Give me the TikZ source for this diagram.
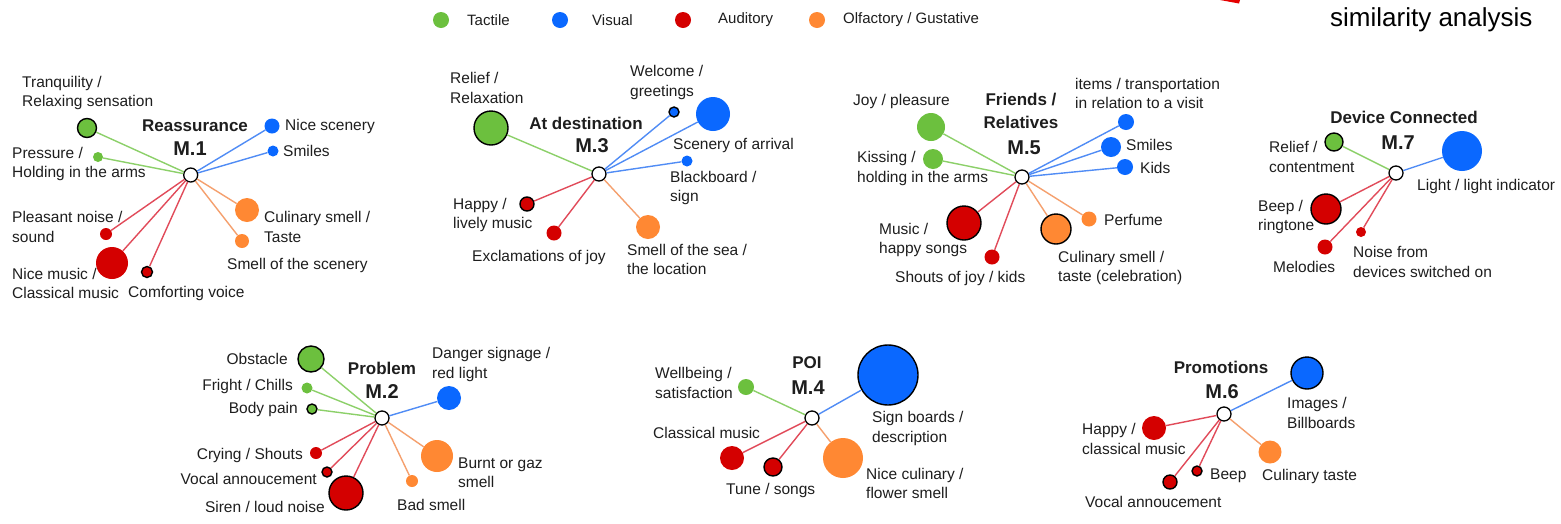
\documentclass[tikz,border=0pt]{standalone}
\usepackage{fontspec}
\setmainfont{Liberation Sans}
\definecolor{cG}{RGB}{108,192,62}
\definecolor{cB}{RGB}{10,104,255}
\definecolor{cR}{RGB}{212,0,0}
\definecolor{cO}{RGB}{255,136,51}
\definecolor{lG}{RGB}{140,208,105}
\definecolor{lB}{RGB}{80,140,245}
\definecolor{lR}{RGB}{225,75,90}
\definecolor{lO}{RGB}{245,160,110}
\definecolor{txt}{RGB}{30,30,30}
\tikzset{
  hub/.style={circle,draw=black,fill=white,line width=1.3pt,minimum size=14pt,inner sep=0pt},
  dot/.style={circle,inner sep=0pt,minimum size=#1},
  ol/.style={draw=black,line width=1.4pt},
  gdot/.style={dot=#1,fill=cG},
  bdot/.style={dot=#1,fill=cB},
  rdot/.style={dot=#1,fill=cR},
  odot/.style={dot=#1,fill=cO},
  ge/.style={draw=lG,line width=1.4pt},
  be/.style={draw=lB,line width=1.4pt},
  re/.style={draw=lR,line width=1.4pt},
  oe/.style={draw=lO,line width=1.4pt},
  lbl/.style={font=\fontsize{15.5}{19.5}\selectfont,align=left,inner sep=0pt,text=txt},
  lblr/.style={lbl,align=right,anchor=east},
  ttl/.style={font=\fontsize{17}{23}\selectfont\bfseries,align=center,inner sep=0pt,text=txt},
  mlab/.style={font=\fontsize{20}{24}\selectfont\bfseries,inner sep=0pt,text=txt},
  leg/.style={font=\fontsize{15}{18}\selectfont,inner sep=0pt,anchor=west,text=txt},
}
\begin{document}
\begin{tikzpicture}[x=1pt,y=-1pt]
\useasboundingbox (0,0) rectangle (1561,523);
\fill[white] (0,0) rectangle (1561,523);
% legend
\node[gdot=16] (lg1) at (441,20) {};
\node[leg] (lt1) at (467,20) {Tactile};
\node[bdot=16] (lg2) at (560,20) {};
\node[leg] (lt2) at (592,20) {Visual};
\node[rdot=16] (lg3) at (683,20) {};
\node[leg] (lt3) at (718,20) {Auditory};
\node[odot=16] (lg4) at (817,20) {};
\node[leg] (lt4) at (843,20) {Olfactory / Gustative};
\node[font=\fontsize{26}{30}\selectfont,anchor=west,inner sep=0pt,text=black] (sim) at (1330,20) {similarity analysis};
\fill[red!90!black] (1220,0) -- (1240,0) -- (1239,3.5) -- cycle;

% ---------------- M.1
\node[hub] (h1) at (190.7,175) {};
\node[ttl] (t1) at (195,126) {Reassurance};
\node[mlab] (n1) at (190,149) {M.1};
\node[gdot=19,ol] (a1) at (87,128) {};
\node[gdot=10] (a2) at (98,157) {};
\node[bdot=15] (a3) at (272,126) {};
\node[bdot=11] (a4) at (273,151) {};
\node[odot=24] (a5) at (247,210) {};
\node[odot=14] (a6) at (242,241) {};
\node[rdot=12] (a7) at (106,234) {};
\node[rdot=32] (a8) at (112,263) {};
\node[rdot=11,ol] (a9) at (147,272) {};
\draw[ge] (h1) -- (a1); \draw[ge] (h1) -- (a2);
\draw[be] (h1) -- (a3); \draw[be] (h1) -- (a4);
\draw[oe] (h1) -- (a5); \draw[oe] (h1) -- (a6);
\draw[re] (h1) -- (a7); \draw[re] (h1) -- (a8); \draw[re] (h1) -- (a9);
\node[lbl,anchor=west] (la1) at (22,93) {Tranquility /\\Relaxing sensation};
\node[lbl,anchor=west] (la2) at (12,164) {Pressure /\\Holding in the arms};
\node[lbl,anchor=west] (la3) at (285,126) {Nice scenery};
\node[lbl,anchor=west] (la4) at (283,151) {Smiles};
\node[lbl,anchor=west] (la5) at (264,227) {Culinary smell /\\Taste};
\node[lbl,anchor=west] (la6) at (227,265) {Smell of the scenery};
\node[lbl,anchor=west] (la7) at (12,227) {Pleasant noise /\\sound};
\node[lbl,anchor=west] (la8) at (12,283.5) {Nice music /\\Classical music};
\node[lbl,anchor=west] (la9) at (128,293) {Comforting voice};

% ---------------- M.3
\node[hub] (h3) at (599,174) {};
\node[ttl] (t3) at (586,123) {At destination};
\node[mlab] (n3) at (592,146) {M.3};
\node[gdot=34,ol] (c1) at (491,128) {};
\node[bdot=10,ol] (c2) at (674,112) {};
\node[bdot=34] (c3) at (713,114) {};
\node[bdot=11] (c4) at (687,161) {};
\node[rdot=14,ol] (c5) at (527,204) {};
\node[rdot=15] (c6) at (554,233) {};
\node[odot=24] (c7) at (648,227) {};
\draw[ge] (h3) -- (c1);
\draw[be] (h3) -- (c2); \draw[be] (h3) -- (c3); \draw[be] (h3) -- (c4);
\draw[re] (h3) -- (c5); \draw[re] (h3) -- (c6);
\draw[oe] (h3) -- (c7);
\node[lbl,anchor=west] (lc1) at (450,88) {Relief /\\Relaxation};
\node[lbl,anchor=west] (lc2) at (630,82.5) {Welcome /\\greetings};
\node[lbl,anchor=west] (lc3) at (673,145) {Scenery of arrival};
\node[lbl,anchor=west] (lc4) at (670,188) {Blackboard /\\sign};
\node[lbl,anchor=west] (lc5) at (453,215) {Happy /\\lively music};
\node[lbl,anchor=west] (lc6) at (472,257) {Exclamations of joy};
\node[lbl,anchor=west] (lc7) at (627,259.5) {Smell of the sea /\\the location};

% ---------------- M.5
\node[hub] (h5) at (1022,177) {};
\node[ttl] (t5) at (1021,110.5) {Friends /\\Relatives};
\node[mlab] (n5) at (1024,148) {M.5};
\node[gdot=28] (e1) at (931,127) {};
\node[gdot=20] (e2) at (933,159) {};
\node[bdot=16] (e3) at (1126,122) {};
\node[bdot=20] (e4) at (1111,147) {};
\node[bdot=16] (e5) at (1125,167) {};
\node[rdot=34,ol] (e6) at (964,223) {};
\node[rdot=15] (e7) at (992,257) {};
\node[odot=30,ol] (e8) at (1056,229) {};
\node[odot=15] (e9) at (1089,219) {};
\draw[ge] (h5) -- (e1); \draw[ge] (h5) -- (e2);
\draw[be] (h5) -- (e3); \draw[be] (h5) -- (e4); \draw[be] (h5) -- (e5);
\draw[re] (h5) -- (e6); \draw[re] (h5) -- (e7);
\draw[oe] (h5) -- (e8); \draw[oe] (h5) -- (e9);
\node[lbl,anchor=west] (le1) at (853,101) {Joy / pleasure};
\node[lbl,anchor=west] (le2) at (857,168.5) {Kissing /\\holding in the arms};
\node[lbl,anchor=west] (le3) at (1075,93.5) {items / transportation\\in relation to a visit};
\node[lbl,anchor=west] (le4) at (1126,145) {Smiles};
\node[lbl,anchor=west] (le5) at (1140,168) {Kids};
\node[lbl,anchor=west] (le6) at (879,240) {Music /\\happy songs};
\node[lbl,anchor=west] (le7) at (895,278) {Shouts of joy / kids};
\node[lbl,anchor=west] (le8) at (1058,268) {Culinary smell /\\taste (celebration)};
\node[lbl,anchor=west] (le9) at (1104,220) {Perfume};

% ---------------- M.7
\node[hub] (h7) at (1396,173) {};
\node[ttl] (t7) at (1404,117) {Device Connected};
\node[mlab] (n7) at (1398,143) {M.7};
\node[gdot=18,ol] (g1) at (1334,142) {};
\node[bdot=40] (g2) at (1462,151) {};
\node[rdot=30,ol] (g3) at (1326,209) {};
\node[rdot=15] (g4) at (1325,247) {};
\node[rdot=10] (g5) at (1361,232) {};
\draw[ge] (h7) -- (g1);
\draw[be] (h7) -- (g2);
\draw[re] (h7) -- (g3); \draw[re] (h7) -- (g4); \draw[re] (h7) -- (g5);
\node[lbl,anchor=west] (lg1t) at (1269,157) {Relief /\\contentment};
\node[lbl,anchor=west] (lg2t) at (1417,186) {Light / light indicator};
\node[lbl,anchor=west] (lg3t) at (1258,217) {Beep /\\ringtone};
\node[lbl,anchor=west] (lg4t) at (1273,267) {Melodies};
\node[lbl,anchor=west] (lg5t) at (1353,262) {Noise from\\devices switched on};

% ---------------- M.2
\node[hub] (h2) at (382,418) {};
\node[ttl] (t2) at (382,368) {Problem};
\node[mlab] (n2) at (382,392) {M.2};
\node[gdot=26,ol] (b1) at (311,359) {};
\node[gdot=11] (b2) at (307,388) {};
\node[gdot=10,ol] (b3) at (312,409) {};
\node[bdot=24] (b4) at (449,398) {};
\node[rdot=12] (b5) at (316,453) {};
\node[rdot=10,ol] (b6) at (327,472) {};
\node[rdot=34,ol] (b7) at (346,493) {};
\node[odot=32] (b8) at (437,456) {};
\node[odot=12] (b9) at (412,481) {};
\draw[ge] (h2) -- (b1); \draw[ge] (h2) -- (b2); \draw[ge] (h2) -- (b3);
\draw[be] (h2) -- (b4);
\draw[re] (h2) -- (b5); \draw[re] (h2) -- (b6); \draw[re] (h2) -- (b7);
\draw[oe] (h2) -- (b8); \draw[oe] (h2) -- (b9);
\node[lblr] (lb1) at (288,359) {Obstacle};
\node[lblr] (lb2) at (293,386) {Fright / Chills};
\node[lblr] (lb3) at (298,409) {Body pain};
\node[lbl,anchor=west] (lb4) at (432,364.5) {Danger signage /\\red light};
\node[lblr] (lb5) at (303,455) {Crying / Shouts};
\node[lblr] (lb6) at (317,479) {Vocal annoucement};
\node[lblr] (lb7) at (325,507) {Siren / loud noise};
\node[lbl,anchor=west] (lb8) at (458,472.5) {Burnt or gaz\\smell};
\node[lbl,anchor=west] (lb9) at (397,505) {Bad smell};

% ---------------- M.4
\node[hub] (h4) at (812,418) {};
\node[ttl] (t4) at (807,363) {POI};
\node[mlab] (n4) at (808,388) {M.4};
\node[gdot=16] (d1) at (746,387) {};
\node[bdot=60,ol] (d2) at (888,375) {};
\node[rdot=24] (d3) at (732,458) {};
\node[rdot=18,ol] (d4) at (773,467) {};
\node[odot=40] (d5) at (843,458) {};
\draw[ge] (h4) -- (d1);
\draw[be] (h4) -- (d2);
\draw[re] (h4) -- (d3); \draw[re] (h4) -- (d4);
\draw[oe] (h4) -- (d5);
\node[lbl,anchor=west] (ld1) at (655,383) {Wellbeing /\\satisfaction};
\node[lbl,anchor=west] (ld2) at (872,428.5) {Sign boards /\\description};
\node[lbl,anchor=west] (ld3) at (653,433) {Classical music};
\node[lbl,anchor=west] (ld4) at (726,490) {Tune / songs};
\node[lbl,anchor=west] (ld5) at (866,483.5) {Nice culinary /\\flower smell};

% ---------------- M.6
\node[hub] (h6) at (1224,414) {};
\node[ttl] (t6) at (1221,367) {Promotions};
\node[mlab] (n6) at (1222,392) {M.6};
\node[bdot=32,ol] (f1) at (1307,373) {};
\node[rdot=24] (f2) at (1154,428) {};
\node[odot=23] (f3) at (1270,452) {};
\node[rdot=10,ol] (f4) at (1197,471) {};
\node[rdot=14,ol] (f5) at (1170,482) {};
\draw[be] (h6) -- (f1);
\draw[re] (h6) -- (f2);
\draw[oe] (h6) -- (f3);
\draw[re] (h6) -- (f4); \draw[re] (h6) -- (f5);
\node[lbl,anchor=west] (lf1) at (1287,413) {Images /\\Billboards};
\node[lbl,anchor=west] (lf2) at (1082,439) {Happy /\\classical music};
\node[lbl,anchor=west] (lf3) at (1262,476) {Culinary taste};
\node[lbl,anchor=west] (lf4) at (1210,476) {Beep};
\node[lbl,anchor=west] (lf5) at (1085,502) {Vocal annoucement};
\end{tikzpicture}
\end{document}
